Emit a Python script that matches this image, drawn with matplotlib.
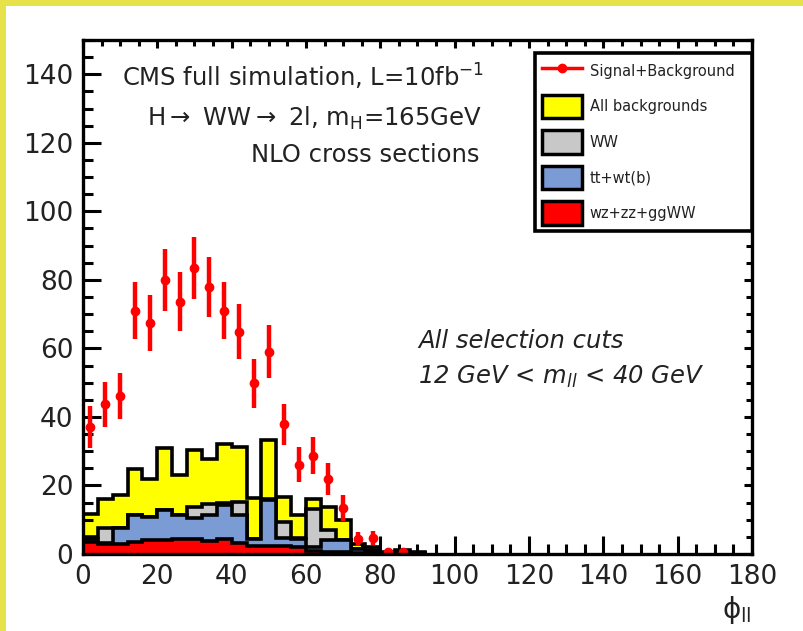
"""
H -> WW -> 2l: phi_ll distribution after all selection cuts
"""

#libraries
import numpy as np
import matplotlib
matplotlib.use('Agg')
import matplotlib.pyplot as plt
from matplotlib.patches import Patch, Rectangle
from matplotlib.lines import Line2D
from matplotlib.ticker import MultipleLocator

plt.rcParams['font.family'] = 'DejaVu Sans'
plt.rcParams['mathtext.fontset'] = 'dejavusans'

# 1. data (bins of 4 degrees)
bin_width = 4
wz_zz_ggww = [3.5, 2.8, 2.9, 3.4, 4.0, 4.0, 4.3, 4.3, 3.9, 4.5, 3.3, 2.2,
              2.2, 2.2, 2.0, 1.0, 0.5, 0.5, 0.3, 0.2, 0.1, 0.1, 0.0]
tt_wt = [1.0, 0.4, 4.6, 7.9, 6.8, 8.7, 7.0, 6.1, 7.4, 9.7, 8.0, 2.2,
         13.7, 2.6, 2.5, 1.0, 3.5, 3.5, 1.2, 0.8, 0.2, 0.4, 0.3]
ww = [0.6, 4.5, 0.1, 0.1, 0.1, 0.1, 0.1, 3.3, 3.4, 0.8, 4.0, 0.1,
      0.1, 4.5, 0.1, 11.2, 2.9, 0.1, 0.1, 0.1, 0.1, 0.1, 0.0]
all_bkg = [11.8, 16.1, 17.1, 24.9, 22.0, 30.8, 23.2, 30.3, 27.8, 32.2, 31.2, 16.3,
           33.2, 16.5, 11.5, 16.1, 13.7, 9.8, 3.0, 2.0, 0.7, 1.2, 0.5]
sig_bkg = [37.1, 43.7, 46.1, 71.0, 67.5, 80.0, 73.6, 83.4, 78.0, 71.0, 64.9,
           49.8, 59.0, 37.8, 26.0, 28.7, 21.9, 13.4, 4.4, 4.6, 0.6, 0.6]
sig_err = [6.1, 6.6, 6.8, 8.4, 8.2, 9.0, 8.6, 9.1, 8.8, 8.4, 8.1,
           7.1, 7.7, 6.1, 5.1, 5.4, 4.7, 3.7, 2.1, 2.1, 0.8, 0.8]

# 2. stack
red = np.array(wz_zz_ggww)
blue = red + np.array(tt_wt)
gray = blue + np.array(ww)
yellow = np.array(all_bkg)
edges = np.arange(len(red) + 1) * bin_width
centers = (np.arange(len(sig_bkg)) + 0.5) * bin_width

# 3. figure
fig = plt.figure(figsize=(8.04, 6.31), dpi=100, facecolor='#E8E24A')
fig.add_artist(Rectangle((6/804, 0), 1, 1 - 6/631, transform=fig.transFigure,
                         facecolor='white', edgecolor='none', zorder=-5))
ax = fig.add_axes([83/804, 1 - 554/631, (752 - 83)/804, (554 - 40)/631])

lw_h = 2.6
ax.stairs(yellow, edges, fill=True, facecolor='#FFFF00', edgecolor='black', linewidth=lw_h, zorder=1)
ax.stairs(gray, edges, fill=True, facecolor='#C8C8C8', edgecolor='black', linewidth=lw_h, zorder=2)
ax.stairs(blue, edges, fill=True, facecolor='#7B9BD4', edgecolor='black', linewidth=lw_h, zorder=3)
ax.stairs(red, edges, fill=True, facecolor='#FF0000', edgecolor='black', linewidth=lw_h, zorder=4)

ax.errorbar(centers, sig_bkg, yerr=sig_err, fmt='o', color='red', ms=6,
            elinewidth=3.2, capsize=0, zorder=6)

ax.set_xlim(0, 180)
ax.set_ylim(0, 150)
ax.xaxis.set_major_locator(MultipleLocator(20))
ax.xaxis.set_minor_locator(MultipleLocator(5))
ax.yaxis.set_major_locator(MultipleLocator(20))
ax.yaxis.set_minor_locator(MultipleLocator(5))
ax.set_yticks(np.arange(0, 141, 20))
ax.tick_params(which='major', direction='in', length=13, width=2.2, labelsize=19, pad=7,
               labelcolor='#222222')
ax.tick_params(axis='x', which='major', pad=7)
ax.tick_params(which='minor', direction='in', length=7, width=2.2)
for s in ax.spines.values():
    s.set_linewidth(2.4)
    s.set_zorder(10)

# short ticks on top and right
secx = ax.secondary_xaxis('top')
secx.xaxis.set_major_locator(MultipleLocator(20))
secx.xaxis.set_minor_locator(MultipleLocator(5))
secx.tick_params(which='major', direction='in', length=6, width=2.2, labeltop=False)
secx.tick_params(which='minor', direction='in', length=4, width=2.2)
secy = ax.secondary_yaxis('right')
secy.yaxis.set_major_locator(MultipleLocator(20))
secy.yaxis.set_minor_locator(MultipleLocator(5))
secy.tick_params(which='major', direction='in', length=6, width=2.2, labelright=False)
secy.tick_params(which='minor', direction='in', length=4, width=2.2)

# upright phi as in the original
fig.text(737/804, 1 - 618/631, '\u03d5$_{\\mathrm{ll}}$', fontsize=20,
         ha='center', va='baseline', color='#222222')

# 4. texts
tc = '#222222'
fig.text(484/804, 1 - 77/631, r'CMS full simulation, L=10fb$^{-1}$', fontsize=17.5,
         ha='right', va='center', color=tc)
fig.text(482/804, 1 - 118/631, r'H$\rightarrow$ WW$\rightarrow$ 2l, m$_{\mathrm{H}}$=165GeV',
         fontsize=17.5, ha='right', va='center', color=tc)
fig.text(480/804, 1 - 155/631, 'NLO cross sections', fontsize=17.5,
         ha='right', va='center', color=tc)
fig.text(418/804, 1 - 341/631, 'All selection cuts', fontsize=17.5, style='italic',
         ha='left', va='center', color=tc)
fig.text(418/804, 1 - 377/631, r'12 GeV < m$_{ll}$ < 40 GeV', fontsize=17.5, style='italic',
         ha='left', va='center', color=tc)

# 5. legend
handles = [Line2D([], [], color='red', lw=2.5, marker='o', ms=6),
           Patch(facecolor='#FFFF00', edgecolor='black', linewidth=2.5),
           Patch(facecolor='#C8C8C8', edgecolor='black', linewidth=2.5),
           Patch(facecolor='#7B9BD4', edgecolor='black', linewidth=2.5),
           Patch(facecolor='#FF0000', edgecolor='black', linewidth=2.5)]
labels = ['Signal+Background', 'All backgrounds', 'WW', 'tt+wt(b)', 'wz+zz+ggWW']
leg = fig.legend(handles, labels, loc='upper left', mode='expand',
                 bbox_to_anchor=(535/804, 0.5, 217/804, 0.5 - 53/631),
                 bbox_transform=fig.transFigure, fontsize=10.5, frameon=True,
                 fancybox=False, framealpha=1, edgecolor='black',
                 handlelength=2.8, handleheight=2.1, labelspacing=0.82,
                 handletextpad=0.5, borderpad=0.45, borderaxespad=0)
leg.get_frame().set_linewidth(2.6)
for t in leg.get_texts():
    t.set_color(tc)

fig.savefig('out.png', dpi=100, facecolor=fig.get_facecolor())
